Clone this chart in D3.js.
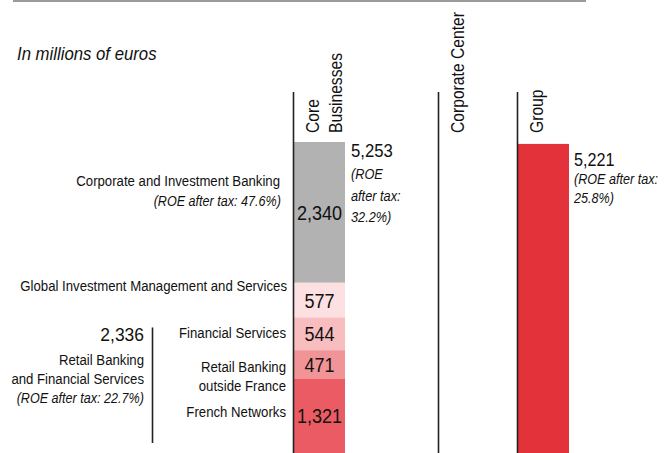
<!DOCTYPE html>
<html>
<head>
<meta charset="utf-8">
<script src="https://cdn.jsdelivr.net/npm/d3@7"></script>
<style>
  body { margin: 0; background: #fff; }
  svg text { font-family: "Liberation Sans", Arial, sans-serif; fill: #111; }
</style>
</head>
<body>
<div id="chart"></div>
<script>
// Core businesses stack, from top to bottom
const segments = ["Corporate and Investment Banking", "Global Investment Management and Services",
                  "Financial Services", "Retail Banking outside France", "French Networks"];
const segmentValues = [2340, 577, 544, 471, 1321];
const segmentColors = ["#b2b2b3", "#fde1e2", "#f8bdbf", "#f19497", "#eb5b63"];

const columns = ["Core Businesses", "Corporate Center", "Group"];
const columnLines = [["Core", "Businesses"], ["Corporate Center"], ["Group"]];
const coreTotal = 5253;
const groupTotal = 5221;
const retailTotal = 2336;

const roeCIB = "47.6%";
const roeCore = "32.2%";
const roeRetail = "22.7%";
const roeGroup = "25.8%";

const fmt = d3.format(",");

class splitChart {

  constructor(element_id) {
    const width = 667, height = 453;

    this.svg = d3.select("#" + element_id)
      .append("svg")
        .attr("width", width)
        .attr("height", height);

    const svg = this.svg;

    // no condensed font installed -> squeeze horizontally
    const txt = (str, xx, yy, opts = {}) =>
      svg.append("text")
        .attr("transform", `translate(${xx},${yy})` + (opts.rotate ? " rotate(-90)" : "") + ` scale(${opts.k || 0.88},1)`)
        .attr("text-anchor", opts.anchor || "start")
        .style("font-size", (opts.size || 15) + "px")
        .style("font-style", opts.italic ? "italic" : "normal")
        .text(str);

    // column positions (uneven spacing in the original)
    const x = d3.scaleOrdinal().domain(columns).range([293.5, 438.5, 517.5]);
    const barW = 51;

    // value axis, baseline sits just below the visible area
    const y = d3.scaleLinear().domain([0, coreTotal]).range([458, 142]);

    // top rule
    svg.append("line")
      .attr("x1", 13).attr("x2", 586).attr("y1", 1).attr("y2", 1)
      .attr("stroke", "#9a9a9a").attr("stroke-width", 2);

    txt("In millions of euros", 17, 60, {size: 18, italic: true, k: 0.93});

    // stacked core bar (bottom-up cumulative)
    const stackData = segments.map((s, i) => {
      const below = d3.sum(segmentValues.slice(i + 1));
      return {name: s, value: segmentValues[i], y0: below, y1: below + segmentValues[i], color: segmentColors[i]};
    });

    svg.append("g").selectAll("rect")
      .data(stackData)
      .enter()
      .append("rect")
        .attr("x", x("Core Businesses") + 0.5)
        .attr("width", barW)
        .attr("y", d => y(d.y1))
        .attr("height", d => y(d.y0) - y(d.y1))
        .attr("fill", d => d.color);

    stackData.forEach(d => {
      txt(fmt(d.value), x("Core Businesses") + 0.5 + barW / 2,
          (y(d.y1) + Math.min(y(d.y0), height)) / 2 + 7.5,
          {size: 21, anchor: "middle", k: 0.86});
    });

    // group bar
    svg.append("rect")
      .attr("x", x("Group") + 0.5)
      .attr("width", barW)
      .attr("y", y(groupTotal))
      .attr("height", y(0) - y(groupTotal))
      .attr("fill", "#e4323a");

    // column separators
    svg.selectAll("line.col")
      .data(columns)
      .enter()
      .append("line")
        .attr("class", "col")
        .attr("x1", d => x(d)).attr("x2", d => x(d))
        .attr("y1", 92).attr("y2", height)
        .attr("stroke", "#222").attr("stroke-width", 1.6);

    // rotated column headings
    columns.forEach((c, i) => {
      columnLines[i].forEach((ln, j) => {
        txt(ln, x(c) + 25 + j * 23, 133, {size: 18, rotate: true, k: 0.87});
      });
    });

    // segment labels on the left
    const seg = d => stackData.find(s => s.name === d);
    const mid = d => (y(seg(d).y1) + y(seg(d).y0)) / 2;
    const R = {anchor: "end"};
    const RI = {anchor: "end", italic: true, k: 0.84};

    txt(segments[0], 280, mid(segments[0]) - 26, R);
    txt(`(ROE after tax: ${roeCIB})`, 281, mid(segments[0]) - 6, RI);
    txt(segments[1], 287, y(seg(segments[1]).y1) + 8, R);
    txt(segments[2], 286, mid(segments[2]) + 4, R);
    txt("Retail Banking", 286, y(seg(segments[3]).y0) - 6.5, R);
    txt("outside France", 286, y(seg(segments[3]).y0) + 12.5, R);
    txt(segments[4], 286, y(seg(segments[4]).y1) + 38.5, R);

    // retail banking bracket
    const retailTop = y(retailTotal);
    svg.append("line")
      .attr("x1", 152.5).attr("x2", 152.5)
      .attr("y1", retailTop + 10).attr("y2", y(0) - 15)
      .attr("stroke", "#222").attr("stroke-width", 1.6);
    txt(fmt(retailTotal), 144, retailTop + 24, {anchor: "end", size: 18, k: 0.97});
    txt("Retail Banking", 144, retailTop + 47.5, R);
    txt("and Financial Services", 144, retailTop + 67, R);
    txt(`(ROE after tax: ${roeRetail})`, 144, retailTop + 86, RI);

    // totals on the right of bars
    const cx = x("Core Businesses") + barW + 6.5;
    txt(fmt(coreTotal), cx, y(coreTotal) + 15, {size: 18, k: 0.93});
    txt("(ROE", cx, y(coreTotal) + 37, {italic: true, k: 0.85});
    txt("after tax:", cx, y(coreTotal) + 59, {italic: true, k: 0.85});
    txt(`${roeCore})`, cx, y(coreTotal) + 80, {italic: true, k: 0.85});

    const gx = x("Group") + barW + 5.5;
    txt(fmt(groupTotal), gx, y(groupTotal) + 22, {size: 18, k: 0.9});
    txt("(ROE after tax:", gx, y(groupTotal) + 40, {italic: true, k: 0.84});
    txt(`${roeGroup})`, gx, y(groupTotal) + 59.5, {italic: true, k: 0.84});
  }
}

function whenDocumentLoaded(action) {
  if (document.readyState === "loading") {
    document.addEventListener("DOMContentLoaded", action);
  } else {
    action();
  }
}

whenDocumentLoaded(() => {
  plot_object = new splitChart("chart");
});
</script>
</body>
</html>
